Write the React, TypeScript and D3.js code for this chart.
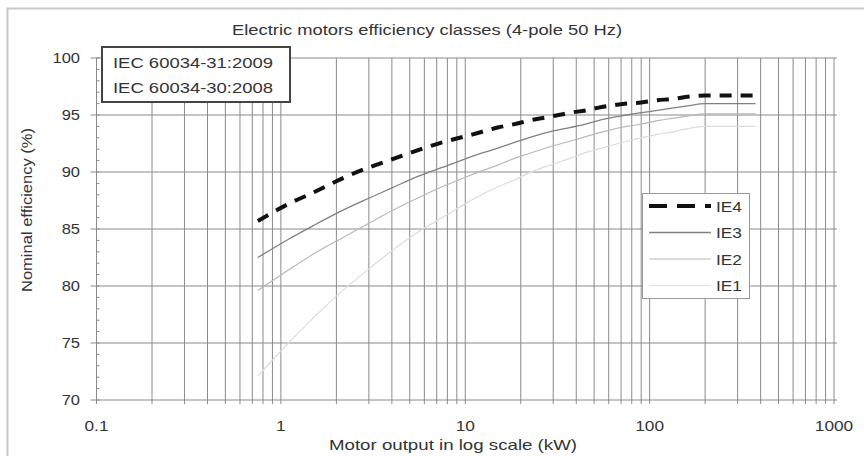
import React, { useEffect, useRef } from "react";
import * as d3 from "d3";

// motor ratings (kW)
const power = [0.75, 1.1, 1.5, 2.2, 3, 4, 5.5, 7.5, 11, 15, 18.5, 22, 30, 37, 45, 55, 75, 90, 110, 132, 160, 200, 250, 315, 375];

// nominal efficiency (%) per class
const ie4 = [85.7, 87.2, 88.2, 89.5, 90.4, 91.1, 91.9, 92.6, 93.3, 93.9, 94.2, 94.5, 94.9, 95.2, 95.4, 95.7, 96.0, 96.1, 96.3, 96.4, 96.6, 96.7, 96.7, 96.7, 96.7];
const ie3 = [82.5, 84.1, 85.3, 86.7, 87.7, 88.6, 89.6, 90.4, 91.4, 92.1, 92.6, 93.0, 93.6, 93.9, 94.2, 94.6, 95.0, 95.2, 95.4, 95.6, 95.8, 96.0, 96.0, 96.0, 96.0];
const ie2 = [79.6, 81.4, 82.8, 84.3, 85.5, 86.6, 87.7, 88.7, 89.8, 90.6, 91.2, 91.6, 92.3, 92.7, 93.1, 93.5, 94.0, 94.2, 94.5, 94.7, 94.9, 95.1, 95.1, 95.1, 95.1];
const ie1 = [72.1, 75.0, 77.2, 79.7, 81.5, 83.1, 84.7, 86.0, 87.6, 88.7, 89.3, 89.9, 90.7, 91.2, 91.7, 92.1, 92.7, 93.0, 93.3, 93.5, 93.8, 94.0, 94.0, 94.0, 94.0];

const classNames = ["IE4", "IE3", "IE2", "IE1"];
const xTickLabels = [0.1, 1, 10, 100, 1000];
const yTickLabels = [70, 75, 80, 85, 90, 95, 100];
const standards = ["IEC 60034-31:2009", "IEC 60034-30:2008"];

const font = "'Liberation Sans', Arial, sans-serif";

// text helper: the source image is stretched sideways, so widen glyphs a bit
function label(parent: any, x: number, y: number, txt: any, opts: any = {}) {
  const t = parent.append("text")
    .attr("x", x).attr("y", y)
    .attr("font-family", font).attr("font-size", opts.size || 15)
    .attr("fill", "#333")
    .attr("text-anchor", opts.anchor || "start")
    .text(txt);
  if (opts.transform) t.attr("transform", opts.transform);
  const w = opts.width || (t.node() as SVGTextElement).getComputedTextLength() * (opts.stretch || 1.15);
  t.attr("textLength", w).attr("lengthAdjust", "spacingAndGlyphs");
  return t;
}

export default function App() {
  const ref = useRef<SVGSVGElement>(null);

  useEffect(() => {
    const svg = d3.select(ref.current);
    svg.selectAll("*").remove();

    const x = d3.scaleLog().domain([0.1, 1000]).range([96.5, 834]);
    const y = d3.scaleLinear().domain([70, 100]).range([400, 58]);

    // frame (only top + left edges are in view)
    svg.append("rect").attr("x", 7.5).attr("y", 8.5).attr("width", 900).attr("height", 500)
      .attr("fill", "white").attr("stroke", "#c8c8c8").attr("stroke-width", 2);

    const g = svg.append("g");

    // vertical grid: 1..9 in each decade
    const vTicks: number[] = [];
    for (let e = -1; e < 3; e++) {
      for (let m = 1; m < 10; m++) vTicks.push(m * Math.pow(10, e));
    }
    vTicks.push(1000);
    g.selectAll(".vg").data(vTicks).enter().append("line")
      .attr("x1", d => x(d)).attr("x2", d => x(d))
      .attr("y1", y(100)).attr("y2", y(70) + 4)
      .attr("stroke", "#8a8a8a").attr("stroke-width", 1);

    // horizontal grid
    g.selectAll(".hg").data(yTickLabels).enter().append("line")
      .attr("x1", x(0.1) - 6).attr("x2", x(1000) + 3)
      .attr("y1", d => y(d)).attr("y2", d => y(d))
      .attr("stroke", "#8a8a8a").attr("stroke-width", 1);

    // minor ticks on y axis
    g.selectAll(".mt").data(d3.range(70, 101, 1)).enter().append("line")
      .attr("x1", x(0.1)).attr("x2", x(0.1) + 3)
      .attr("y1", d => y(d)).attr("y2", d => y(d))
      .attr("stroke", "#8a8a8a");

    // tick labels
    yTickLabels.forEach(d => label(g, 80, y(d) + 5, d, { anchor: "end", stretch: 1.1 }));
    xTickLabels.forEach(d => label(g, x(d), 431, d, { anchor: "middle", stretch: 1.15 }));

    // titles
    label(svg, 427, 35, "Electric motors efficiency classes (4-pole 50 Hz)", { anchor: "middle", width: 390 });
    label(svg, 453, 450, "Motor output in log scale (kW)", { anchor: "middle", width: 248 });
    label(svg, 0, 0, "Nominal efficiency (%)", {
      anchor: "middle", width: 164, transform: "translate(32,210) rotate(-90)",
    });

    // curves
    const line = d3.line<number>()
      .x((d, i) => x(power[i]))
      .y(d => y(d))
      .curve(d3.curveMonotoneX);

    const styles = [
      { data: ie4, color: "#111", width: 4, dash: "12,9" },
      { data: ie3, color: "#808080", width: 1.3, dash: null },
      { data: ie2, color: "#b8b8b8", width: 1.2, dash: null },
      { data: ie1, color: "#dcdcdc", width: 1.2, dash: null },
    ];
    styles.slice().reverse().forEach(s => {
      g.append("path").attr("d", line(s.data))
        .attr("fill", "none").attr("stroke", s.color)
        .attr("stroke-width", s.width)
        .attr("stroke-dasharray", s.dash);
    });

    // standards box
    svg.append("rect").attr("x", 102).attr("y", 47).attr("width", 188).attr("height", 55)
      .attr("fill", "white").attr("stroke", "#444").attr("stroke-width", 2);
    standards.forEach((t, i) => label(svg, 113, 67.5 + i * 25, t, { width: 160 }));

    // legend
    const lg = svg.append("g");
    lg.append("rect").attr("x", 642.5).attr("y", 193.5).attr("width", 107).attr("height", 105)
      .attr("fill", "white").attr("stroke", "#999");
    styles.forEach((s, i) => {
      const ly = 206 + i * 26.5;
      lg.append("line").attr("x1", 649).attr("x2", 711).attr("y1", ly).attr("y2", ly)
        .attr("stroke", s.color).attr("stroke-width", s.width)
        .attr("stroke-dasharray", s.dash ? "18,10" : null);
      label(lg, 716, ly + 5.5, classNames[i]);
    });
  }, []);

  return (
    <svg ref={ref} width={864} height={456}
      style={{ position: "absolute", left: 0, top: 0, background: "white" }} />
  );
}
